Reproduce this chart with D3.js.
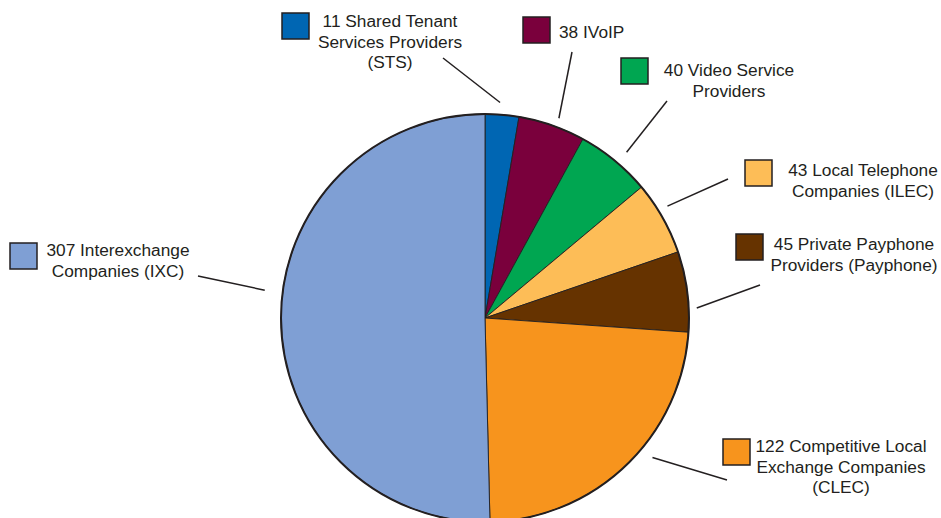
<!DOCTYPE html>
<html>
<head>
<meta charset="utf-8">
<script src="https://cdn.jsdelivr.net/npm/d3@7"></script>
<style>
  body { margin: 0; background: #fff; }
  svg { display: block; font-family: "Liberation Sans", Arial, Helvetica, sans-serif; }
</style>
</head>
<body>
<div id="chart"></div>
<script>
// Provider types, clockwise from 12 o'clock
const categories = ["STS", "IVoIP", "Video", "ILEC", "Payphone", "CLEC", "IXC"];
const counts = [11, 38, 40, 43, 45, 122, 307];
const labelLines = [
    ["11 Shared Tenant", "Services Providers", "(STS)"],
    ["38 IVoIP"],
    ["40 Video Service", "Providers"],
    ["43 Local Telephone", "Companies (ILEC)"],
    ["45 Private Payphone", "Providers (Payphone)"],
    ["122 Competitive Local", "Exchange Companies", "(CLEC)"],
    ["307 Interexchange", "Companies (IXC)"]
];
// slice sizes as drawn in the original (degrees), they don't follow the counts exactly
const sliceDeg = [9.6, 19.1, 21.4, 21.0, 22.9, 84.6, 181.4];
const colors = ["#0066b3", "#7a003c", "#00a651", "#fdbd57", "#663300", "#f7941d", "#7f9fd4"];

// label placement (box corner, text anchor, first baseline, leader line: outer end + inner angle/radius)
const layout = [
    {bx: 282, by: 13, tx: 390, anchor: "middle", ty: 27, lx: 443, ly: 58, ang: 4.0, lr: 216},
    {bx: 523, by: 17, tx: 559, anchor: "start", ty: 38, lx: 572, ly: 52, ang: 20.3, lr: 213},
    {bx: 621, by: 58, tx: 729, anchor: "middle", ty: 76, lx: 667, ly: 101, ang: 40.5, lr: 218},
    {bx: 745, by: 160, tx: 863, anchor: "middle", ty: 176, lx: 728, ly: 179, ang: 58.5, lr: 214},
    {bx: 736, by: 234, tx: 854, anchor: "middle", ty: 250, lx: 760, ly: 285, ang: 87.3, lr: 212},
    {bx: 723, by: 439, tx: 841, anchor: "middle", ty: 452, lx: 727, ly: 480, ang: 129.8, lr: 218},
    {bx: 10, by: 243, tx: 118, anchor: "middle", ty: 256, lx: 198, ly: 276, ang: 277.2, lr: 222}
];

const width = 941, height = 518;
const cx = 485, cy = 318, radius = 204;
const ink = "#231f20";

const data = categories.map((c, i) => ({
    key: c, count: counts[i], deg: sliceDeg[i], color: colors[i], lines: labelLines[i], pos: layout[i]
}));

const svg = d3.select("#chart")
    .append("svg")
    .attr("width", width)
    .attr("height", height);

const pie = d3.pie().sort(null).value((d) => d.deg);
const arc = d3.arc().innerRadius(0).outerRadius(radius);

const g = svg.append("g").attr("transform", `translate(${cx},${cy})`);

g.selectAll("path.slice")
    .data(pie(data))
    .join("path")
    .attr("class", "slice")
    .attr("d", arc)
    .attr("fill", (d) => d.data.color)
    .attr("stroke", ink)
    .attr("stroke-width", 0.9)
    .attr("stroke-linejoin", "round");

// heavier outer rim
g.append("circle")
    .attr("r", radius)
    .attr("fill", "none")
    .attr("stroke", ink)
    .attr("stroke-width", 2);

// leader lines
svg.append("g")
    .selectAll("line")
    .data(data)
    .join("line")
    .attr("x1", (d) => d.pos.lx)
    .attr("y1", (d) => d.pos.ly)
    .attr("x2", (d) => cx + d.pos.lr * Math.sin(d.pos.ang * Math.PI / 180))
    .attr("y2", (d) => cy - d.pos.lr * Math.cos(d.pos.ang * Math.PI / 180))
    .attr("stroke", ink)
    .attr("stroke-width", 1.5);

// legend boxes + labels
const lab = svg.append("g")
    .selectAll("g.label")
    .data(data)
    .join("g")
    .attr("class", "label");

lab.append("rect")
    .attr("x", (d) => d.pos.bx)
    .attr("y", (d) => d.pos.by)
    .attr("width", 27)
    .attr("height", 26)
    .attr("fill", (d) => d.color)
    .attr("stroke", ink)
    .attr("stroke-width", 1.5);

lab.append("text")
    .attr("text-anchor", (d) => d.pos.anchor)
    .attr("fill", ink)
    .style("font-size", "17.3px")
    .selectAll("tspan")
    .data((d) => d.lines.map((t, j) => ({t, j, p: d.pos})))
    .join("tspan")
    .attr("x", (d) => d.p.tx)
    .attr("y", (d) => d.p.ty + d.j * 20.7)
    .text((d) => d.t);
</script>
</body>
</html>
